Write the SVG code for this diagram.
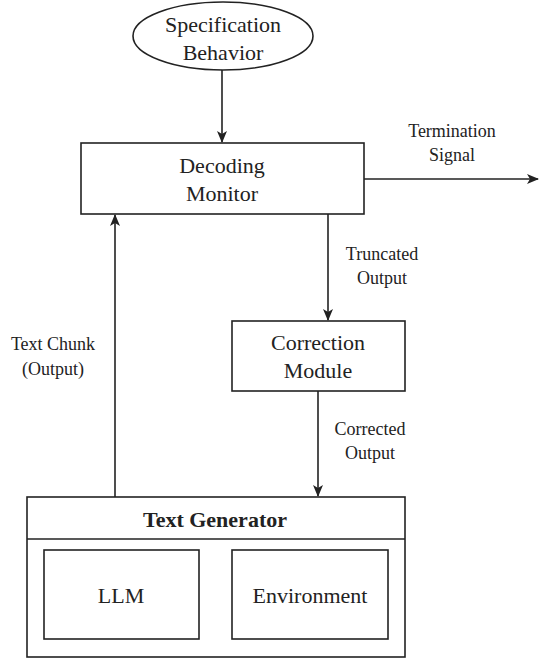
<svg xmlns="http://www.w3.org/2000/svg" width="539" height="661" viewBox="0 0 539 661">
<style>
.box{fill:#fff;stroke:#222;stroke-width:1.6}
.edge{fill:none;stroke:#222;stroke-width:1.6}
.t{font-family:"Liberation Serif","Times New Roman",serif;font-size:22px;fill:#222;text-anchor:middle}
.lbl{font-family:"Liberation Serif","Times New Roman",serif;font-size:18px;fill:#222;text-anchor:middle}
.b{font-weight:bold}
</style>
<defs>
<marker id="arr" viewBox="0 0 12 12" refX="11" refY="6" markerWidth="12" markerHeight="12" markerUnits="userSpaceOnUse" orient="auto">
<path d="M0,1 L12,6 L0,11 L3,6 Z" fill="#222"/>
</marker>
</defs>
<rect width="539" height="661" fill="#fff"/>
<g id="connectors">
<line class="edge" x1="222" y1="70" x2="222" y2="142" marker-end="url(#arr)"/>
<line class="edge" x1="364" y1="179" x2="538" y2="179" marker-end="url(#arr)"/>
<line class="edge" x1="328" y1="214" x2="328" y2="320" marker-end="url(#arr)"/>
<line class="edge" x1="318" y1="391" x2="318" y2="496" marker-end="url(#arr)"/>
<line class="edge" x1="115" y1="497" x2="115" y2="215" marker-end="url(#arr)"/>
<text class="lbl" x="452" y="137">Termination</text>
<text class="lbl" x="452" y="161">Signal</text>
<text class="lbl" x="382" y="260">Truncated</text>
<text class="lbl" x="382" y="284">Output</text>
<text class="lbl" x="370" y="435">Corrected</text>
<text class="lbl" x="370" y="459">Output</text>
<text class="lbl" x="53" y="350">Text Chunk</text>
<text class="lbl" x="53" y="375">(Output)</text>
</g>
<g id="spec">
<ellipse class="box" cx="223" cy="36" rx="90" ry="34"/>
<text class="t" x="223" y="32">Specification</text>
<text class="t" x="223" y="60">Behavior</text>
</g>
<g id="monitor">
<rect class="box" x="81" y="143" width="283" height="71"/>
<text class="t" x="222" y="173">Decoding</text>
<text class="t" x="222" y="201">Monitor</text>
</g>
<g id="correction">
<rect class="box" x="232" y="321" width="173" height="70"/>
<text class="t" x="318" y="350">Correction</text>
<text class="t" x="318" y="378">Module</text>
</g>
<g id="generator">
<rect class="box" x="27" y="497" width="378" height="160"/>
<line class="edge" x1="27" y1="539" x2="405" y2="539"/>
<text class="t b" x="215" y="527">Text Generator</text>
</g>
<g id="llm">
<rect class="box" x="44" y="550" width="155" height="89"/>
<text class="t" x="121" y="603">LLM</text>
</g>
<g id="environment">
<rect class="box" x="232" y="550" width="156" height="89"/>
<text class="t" x="310" y="603">Environment</text>
</g>
</svg>
